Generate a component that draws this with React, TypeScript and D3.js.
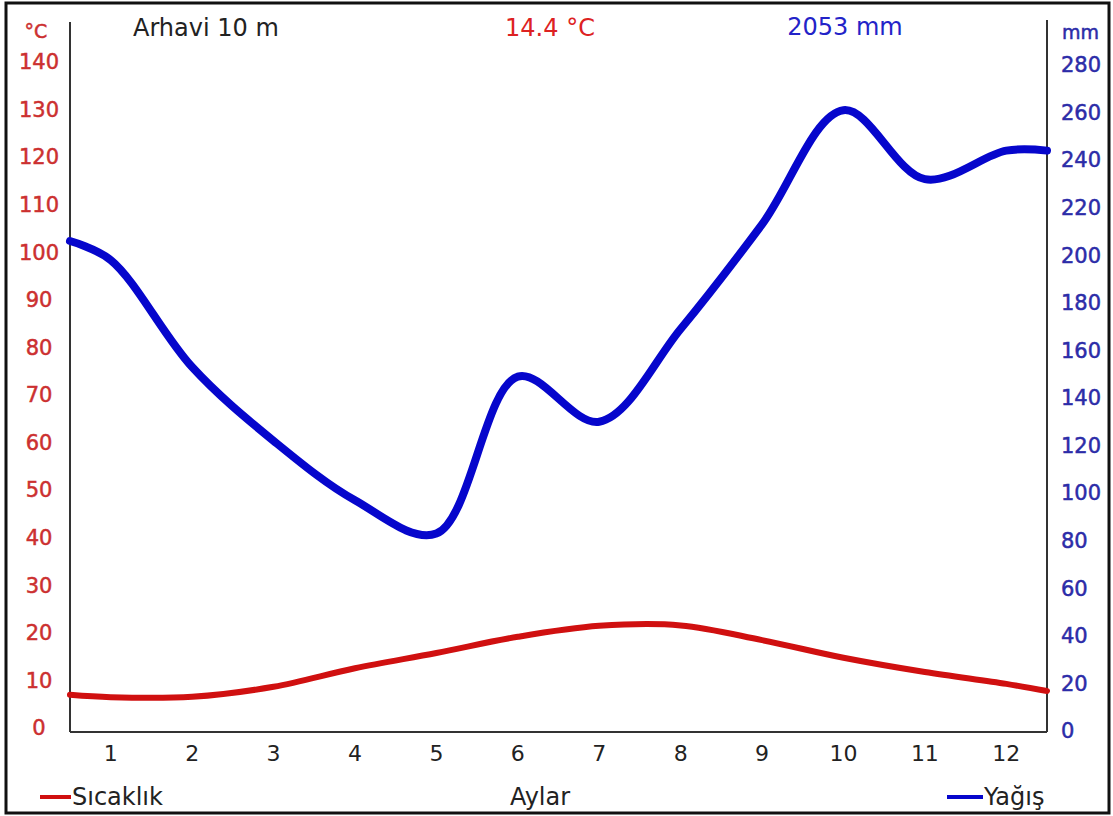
import React from 'react';
import * as d3 from 'd3';

// Arhavi climate chart: monthly mean temperature (°C) and precipitation (mm)
const months = [1, 2, 3, 4, 5, 6, 7, 8, 9, 10, 11, 12];
const temperature = [7.1, 7.2, 9.3, 13.2, 16.4, 19.8, 22.1, 22.2, 19.1, 15.4, 12.4, 9.9];
const precipitation = [198, 153, 122, 97, 83, 149, 130, 169, 213, 261, 232, 244];
// values where the curves meet the left and right edge of the plot
const temperatureEdges = [7.6, 8.4];
const precipitationEdges = [206, 244];

const tempTicks = [0, 10, 20, 30, 40, 50, 60, 70, 80, 90, 100, 110, 120, 130, 140];
const precipTicks = [0, 20, 40, 60, 80, 100, 120, 140, 160, 180, 200, 220, 240, 260, 280];

const station = 'Arhavi 10 m';
const meanTemp = '14.4 °C';
const totalPrecip = '2053 mm';

const W = 1113;
const H = 816;
const left = 70;
const right = 1047;
const bottom = 731;
const top = 65;

const RED = '#d01010';
const BLUE = '#0606cc';
const RED_TEXT = '#cc3030';
const BLUE_TEXT = '#2c2ca8';

const x = d3.scaleLinear().domain([0.5, 12.5]).range([left, right]);
const yT = d3.scaleLinear().domain([0, 140]).range([bottom, top]);
const yP = d3.scaleLinear().domain([0, 280]).range([bottom, top]);

type Pt = { m: number; v: number };

const withEdges = (vals: number[], edges: number[]): Pt[] => [
  { m: 0.5, v: edges[0] },
  ...vals.map((v, i) => ({ m: months[i], v })),
  { m: 12.5, v: edges[1] },
];

export default function App() {
  const tempLine = d3
    .line<Pt>()
    .x((d) => x(d.m))
    .y((d) => yT(d.v))
    .curve(d3.curveCatmullRom.alpha(0.5));

  const precipLine = d3
    .line<Pt>()
    .x((d) => x(d.m))
    .y((d) => yP(d.v))
    .curve(d3.curveCatmullRom.alpha(0.5));

  const tickFont = '"DejaVu Sans", sans-serif';
  const textFont = '"DejaVu Sans", sans-serif';

  return (
    <svg
      width={W}
      height={H}
      style={{ position: 'absolute', left: 0, top: 0, background: '#fff' }}
    >
      <rect x={6} y={3} width={1103} height={810} fill="#fff" stroke="#111" strokeWidth={3} />

      {/* axes */}
      <g stroke="#333" strokeWidth={2} fill="none">
        <line x1={left} y1={22} x2={left} y2={bottom + 1} />
        <line x1={right} y1={20} x2={right} y2={bottom + 1} />
        <line x1={left} y1={bottom + 1} x2={right} y2={bottom + 1} />
      </g>

      {/* left ticks */}
      <g
        fontFamily={tickFont}
        fontSize={21}
        fill={RED_TEXT}
        stroke={RED_TEXT}
        strokeWidth={0.5}
        textAnchor="middle"
      >
        {tempTicks.map((t) => (
          <text key={t} x={39} y={yT(t) - 3} dy="0.35em">
            {t}
          </text>
        ))}
        <text x={36} y={31} dy="0.35em" fontSize={19}>°C</text>
      </g>

      {/* right ticks */}
      <g
        fontFamily={tickFont}
        fontSize={21}
        fill={BLUE_TEXT}
        stroke={BLUE_TEXT}
        strokeWidth={0.5}
        textAnchor="start"
      >
        {precipTicks.map((t) => (
          <text key={t} x={1061} y={yP(t)} dy="0.35em">
            {t}
          </text>
        ))}
        <text x={1062} y={32} dy="0.35em" fontSize={19}>mm</text>
      </g>

      {/* month labels */}
      <g fontFamily={tickFont} fontSize={22} fill="#222" textAnchor="middle">
        {months.map((m) => (
          <text key={m} x={x(m)} y={761}>
            {m}
          </text>
        ))}
      </g>

      {/* header */}
      <g fontFamily={textFont} fontSize={24}>
        <text x={133} y={36} fill="#222">{station}</text>
        <text x={550} y={36} fill="#dd2222" textAnchor="middle">{meanTemp}</text>
        <text x={845} y={35} fill="#2323c8" textAnchor="middle">{totalPrecip}</text>
      </g>

      {/* series */}
      <path
        d={precipLine(withEdges(precipitation, precipitationEdges)) || ''}
        fill="none"
        stroke={BLUE}
        strokeWidth={8}
        strokeLinecap="round"
      />
      <path
        d={tempLine(withEdges(temperature, temperatureEdges)) || ''}
        fill="none"
        stroke={RED}
        strokeWidth={6}
        strokeLinecap="round"
      />

      {/* legend */}
      <g fontFamily={textFont} fontSize={24} fill="#222">
        <line x1={40} y1={797} x2={71} y2={797} stroke={RED} strokeWidth={4} />
        <text x={72} y={805}>Sıcaklık</text>
        <text x={540} y={805} textAnchor="middle">Aylar</text>
        <line x1={947} y1={797} x2={983} y2={797} stroke={BLUE} strokeWidth={4} />
        <text x={984} y={805}>Yağış</text>
      </g>
    </svg>
  );
}
